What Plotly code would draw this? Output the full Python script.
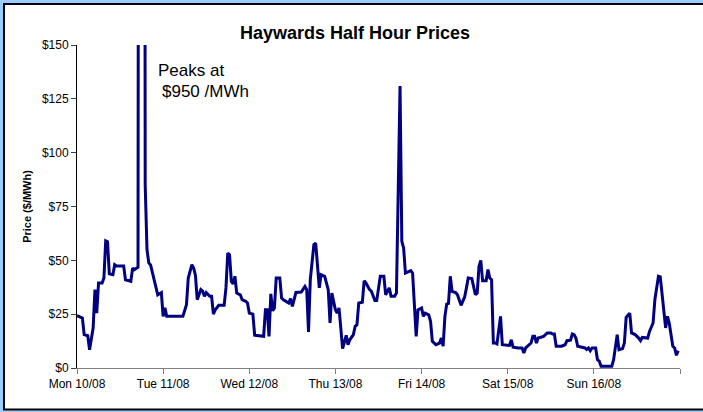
import plotly.graph_objects as go

# Half-hour price series (hours since Mon 10/08 00:00)
hours = [0.0, 1.5, 2.0, 3.0, 3.5, 4.5, 5.0, 5.5, 6.0, 7.0, 7.5, 8.0, 8.5, 9.0, 10.0, 10.5, 11.0, 13.0, 13.5, 15.0,
         15.5, 16.0, 17.0, 17.5, 18.5, 19.0, 19.5, 20.0, 20.5, 22.5, 23.0, 23.5, 24.0, 24.5, 25.0, 29.5, 30.5, 31.0,
         32.0, 32.5, 33.0, 33.5, 34.5, 35.0, 35.5, 36.0, 37.0, 37.5, 38.0, 38.5, 39.5, 41.0, 41.5, 42.0, 42.5, 43.0,
         43.5, 44.0, 44.5, 45.5, 46.0, 47.0, 47.5, 48.0, 49.0, 49.5, 52.0, 52.5, 53.0, 53.5, 54.0, 54.5, 55.0, 55.5,
         56.5, 57.0, 57.5, 58.5, 59.0, 59.5, 60.0, 61.0, 62.5, 63.5, 64.0, 64.5, 65.0, 66.0, 66.5, 67.5, 68.0, 69.0,
         69.5, 70.0, 70.5, 71.0, 72.0, 72.5, 73.0, 74.0, 75.0, 75.5, 76.0, 77.0, 77.5, 78.0, 78.5, 79.5, 80.0, 80.5,
         81.5, 82.0, 83.0, 83.5, 84.5, 85.5, 86.0, 87.0, 87.5, 88.5, 89.0, 90.0, 90.5, 91.0, 91.5, 93.0, 93.5, 94.0,
         94.5, 95.0, 96.0, 96.5, 97.0, 98.0, 98.5, 99.0, 100.0, 101.0, 101.5, 102.0, 102.5, 103.0, 103.5, 104.0,
         104.5, 105.5, 106.0, 107.0, 108.0, 108.5, 109.0, 110.0, 111.0, 111.5, 112.0, 112.5, 113.0, 114.0, 114.5,
         115.0, 115.5, 116.0, 116.5, 117.0, 117.5, 118.0, 118.5, 119.5, 120.5, 121.0, 121.5, 123.0, 124.0, 124.5,
         125.0, 126.5, 127.0, 127.5, 128.0, 128.5, 129.5, 130.0, 131.0, 132.0, 132.5, 133.0, 133.5, 135.0, 136.0,
         136.5, 137.5, 138.0, 138.5, 139.0, 139.5, 140.5, 141.5, 142.0, 142.5, 143.0, 143.5, 144.5, 145.0, 145.5,
         146.0, 149.0, 149.5, 150.5, 151.0, 152.0, 152.5, 153.0, 153.5, 154.0, 154.5, 155.5, 156.5, 157.0, 157.5,
         159.0, 159.5, 160.5, 161.0, 162.0, 162.5, 163.5, 164.0, 164.5, 165.0, 166.0, 166.5, 167.0, 167.5]

price = [24.3, 23.2, 15.5, 15.0, 8.5, 18.6, 36.4, 25.5, 39.5, 39.5, 41.8, 59.1, 58.7, 43.7, 43.3, 48.0, 47.4, 47.4,
         41.0, 40.3, 46.4, 45.7, 46.8, 950, 950, 85, 55, 48.8, 47.9, 34.0, 34.5, 35.0, 24.0, 27.9, 24.0, 24.0, 29.4,
         41.8, 48.0, 46.4, 43.0, 31.7, 36.4, 35.7, 33.3, 35.0, 33.3, 33.3, 25.0, 27.0, 29.1, 29.1, 37.2, 53.4, 52.6,
         40.3, 39.0, 42.6, 34.8, 34.0, 31.7, 31.0, 30.2, 25.5, 25.0, 15.2, 14.7, 27.0, 27.0, 14.7, 34.4, 26.6, 27.9,
         41.8, 41.8, 32.5, 31.7, 30.9, 30.2, 32.2, 28.6, 35.1, 35.3, 37.9, 36.4, 16.7, 41.0, 57.3, 58.0, 37.2, 43.3,
         42.6, 38.7, 36.4, 20.9, 34.8, 27.0, 25.5, 27.9, 9.0, 15.2, 10.8, 13.1, 15.5, 19.4, 20.1, 30.2, 30.5, 40.5,
         39.5, 36.4, 35.7, 31.3, 31.3, 42.6, 42.6, 34.0, 37.2, 33.3, 33.3, 34.8, 131.0, 58.8, 55.7, 44.1, 45.2, 44.0,
         31.7, 14.7, 27.0, 27.9, 24.0, 25.5, 24.7, 21.7, 12.4, 10.8, 11.5, 13.9, 10.1, 24.0, 29.7, 30.0, 42.6, 35.6,
         35.0, 34.0, 29.1, 33.0, 37.2, 41.8, 41.5, 34.0, 34.8, 47.2, 50.0, 40.5, 40.5, 45.7, 41.8, 41.0, 11.6, 11.6,
         11.2, 17.0, 24.0, 10.8, 10.8, 10.5, 13.1, 9.7, 9.3, 9.3, 7.0, 9.3, 11.6, 14.7, 14.7, 11.6, 13.9, 14.3, 14.7,
         16.3, 16.3, 15.8, 15.8, 10.1, 10.1, 10.8, 12.7, 12.9, 15.8, 15.5, 13.9, 10.1, 9.6, 9.3, 8.6, 9.3, 8.0, 9.3,
         9.3, 3.9, 3.2, 0.8, 0.8, 3.9, 15.5, 8.5, 9.0, 11.6, 23.5, 24.3, 25.5, 16.3, 15.5, 13.9, 12.7, 14.2, 13.9,
         17.0, 20.9, 31.7, 42.6, 42.3, 27.9, 18.6, 24.0, 20.9, 10.1, 9.3, 5.9, 8.0]

day_ticks = [0, 24, 48, 72, 96, 120, 144, 168]
day_labels = ["Mon 10/08", "Tue 11/08", "Wed 12/08", "Thu 13/08", "Fri 14/08", "Sat 15/08", "Sun 16/08", ""]
y_ticks = [0, 25, 50, 75, 100, 125, 150]
y_labels = ["$0", "$25", "$50", "$75", "$100", "$125", "$150"]

W, H = 703, 412
L, R, T, B = 77, 23, 45, 44
pw, ph = W - L - R, H - T - B

def px_x(px):
    return (px - L) / pw

def px_y(py):
    return (H - B - py) / ph

fig = go.Figure()
fig.add_trace(go.Scatter(x=hours, y=price, mode="lines",
                         line=dict(color="#000080", width=3), showlegend=False))

fig.update_layout(
    width=W, height=H,
    margin=dict(l=L, r=R, t=T, b=B, autoexpand=False),
    paper_bgcolor="#99CCFF",
    plot_bgcolor="white",
    font=dict(family="Liberation Sans, Arial, sans-serif", color="black", size=12),
    title=dict(text="<b>Haywards Half Hour Prices</b>", x=355 / W, xanchor="center",
               y=1 - 33 / H, yanchor="middle", font=dict(size=18, color="black")),
    shapes=[dict(type="rect", xref="paper", yref="paper",
                 x0=px_x(4), x1=px_x(710), y0=px_y(409.5), y1=px_y(4),
                 fillcolor="white", line=dict(color="black", width=2), layer="below")],
    annotations=[
        dict(text="Peaks at", xref="paper", yref="paper", x=px_x(156), y=px_y(70),
             xanchor="left", yanchor="middle", showarrow=False, font=dict(size=17)),
        dict(text="$950 /MWh", xref="paper", yref="paper", x=px_x(160), y=px_y(91),
             xanchor="left", yanchor="middle", showarrow=False, font=dict(size=17)),
    ],
)

fig.update_xaxes(range=[0, 168], tickvals=day_ticks, ticktext=day_labels,
                 showgrid=False, zeroline=False, showline=True, linecolor="#808080", linewidth=1,
                 ticks="outside", ticklen=5, tickcolor="#808080", tickfont=dict(size=12))
fig.update_yaxes(range=[0, 150], tickvals=y_ticks, ticktext=y_labels,
                 showgrid=False, zeroline=False, showline=True, linecolor="black", linewidth=1,
                 ticks="outside", ticklen=5, tickcolor="#404040", tickfont=dict(size=12),
                 title=dict(text="<b>Price ($/MWh)</b>", font=dict(size=11), standoff=8))

fig.write_html("out.html", config={"displayModeBar": False},
               post_script="document.body.style.margin='0';document.body.style.overflow='hidden';")
